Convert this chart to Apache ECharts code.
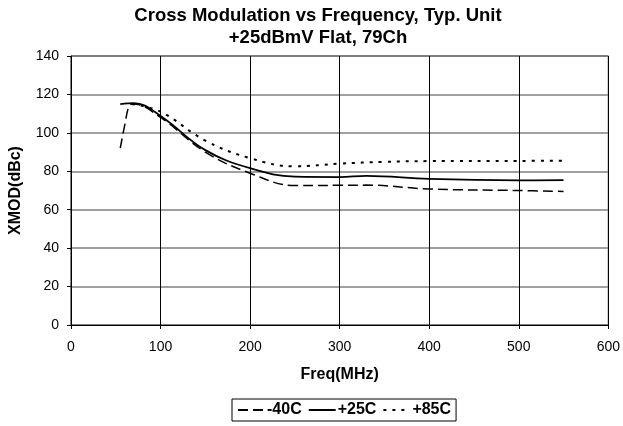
<!DOCTYPE html>
<html>
<head>
<meta charset="utf-8">
<script src="https://cdn.jsdelivr.net/npm/echarts@6/dist/echarts.min.js"></script>
<style>
  html, body { margin: 0; padding: 0; background: #fff; }
  #chart { width: 623px; height: 426px; }
</style>
</head>
<body>
<div id="chart"></div>
<script>
// values (MHz, dBc)
const freqM40 = [55, 60, 65, 70, 100, 150, 200, 250, 300, 330, 400, 500, 550];
const xmodM40 = [92, 104, 114, 115, 108, 90, 79, 72.6, 72.7, 72.8, 70.8, 70, 69.5];

const freq25 = [55, 70, 100, 150, 200, 250, 300, 330, 400, 500, 550];
const xmod25 = [115, 115.5, 108.8, 91, 81.6, 77.2, 77, 77.6, 76, 75.3, 75.4];

const freq85 = [68, 100, 150, 200, 250, 300, 350, 400, 500, 550];
const xmod85 = [115, 111, 96, 86.8, 82.6, 84, 84.9, 85.3, 85.4, 85.5];

const seriesNames = ['-40C', '+25C', '+85C'];

const zip = (xs, ys) => xs.map((x, i) => [x, ys[i]]);

const font = 'Arial, "Liberation Sans", sans-serif';

const chart = echarts.init(document.getElementById('chart'));

const option = {
    animation: false,
    backgroundColor: '#fff',
    title: {
        text: 'Cross Modulation vs Frequency, Typ. Unit\n+25dBmV Flat, 79Ch',
        left: 313,
        textAlign: 'center',
        top: 0,
        textStyle: {
            fontFamily: font,
            fontWeight: 'bold',
            fontSize: 18.5,
            lineHeight: 22,
            color: '#000'
        }
    },
    legend: {
        data: seriesNames,
        bottom: 5,
        left: 232,
        borderColor: '#000',
        borderWidth: 1,
        padding: [3, 5],
        itemGap: 6,
        itemWidth: 27,
        itemHeight: 12,
        itemStyle: { opacity: 0 },
        textStyle: { fontFamily: font, fontWeight: 'bold', fontSize: 16, color: '#000', padding: [0, 0, 0, -3] }
    },
    grid: {
        left: 70,
        right: 10,
        top: 56,
        bottom: 101,
        show: true,
        borderColor: '#000',
        borderWidth: 1
    },
    xAxis: {
        type: 'value',
        min: 0,
        max: 600,
        interval: 100,
        name: 'Freq(MHz)',
        nameLocation: 'middle',
        nameGap: 42,
        nameTextStyle: { fontFamily: font, fontWeight: 'bold', fontSize: 16, color: '#000' },
        axisLine: { lineStyle: { color: '#000' } },
        axisTick: { show: true, length: 4, lineStyle: { color: '#000' } },
        axisLabel: { fontFamily: font, fontSize: 14, color: '#000', margin: 15 },
        splitLine: { show: true, lineStyle: { color: '#000', width: 1 } }
    },
    yAxis: {
        type: 'value',
        min: 0,
        max: 140,
        interval: 20,
        name: 'XMOD(dBc)',
        nameLocation: 'middle',
        nameGap: 47,
        nameTextStyle: { fontFamily: font, fontWeight: 'bold', fontSize: 16, color: '#000' },
        axisLine: { show: true, lineStyle: { color: '#000' } },
        axisTick: { show: true, length: 4, lineStyle: { color: '#000' } },
        axisLabel: { fontFamily: font, fontSize: 14, color: '#000', margin: 12 },
        splitLine: { show: true, lineStyle: { color: '#808080', width: 1.5 } }
    },
    series: [
        {
            name: '-40C',
            type: 'line',
            smooth: 0.4,
            symbol: 'none',
            data: zip(freqM40, xmodM40),
            lineStyle: { color: '#000', width: 1.5, type: [10, 5] },
            itemStyle: { color: '#000' }
        },
        {
            name: '+25C',
            type: 'line',
            smooth: 0.4,
            symbol: 'none',
            data: zip(freq25, xmod25),
            lineStyle: { color: '#000', width: 1.8, type: 'solid' },
            itemStyle: { color: '#000' }
        },
        {
            name: '+85C',
            type: 'line',
            smooth: 0.4,
            symbol: 'none',
            data: zip(freq85, xmod85),
            lineStyle: { color: '#000', width: 2, type: [3, 6] },
            itemStyle: { color: '#000' }
        }
    ]
};

chart.setOption(option);
window.addEventListener('resize', () => {
    chart.resize();
});
</script>
</body>
</html>
